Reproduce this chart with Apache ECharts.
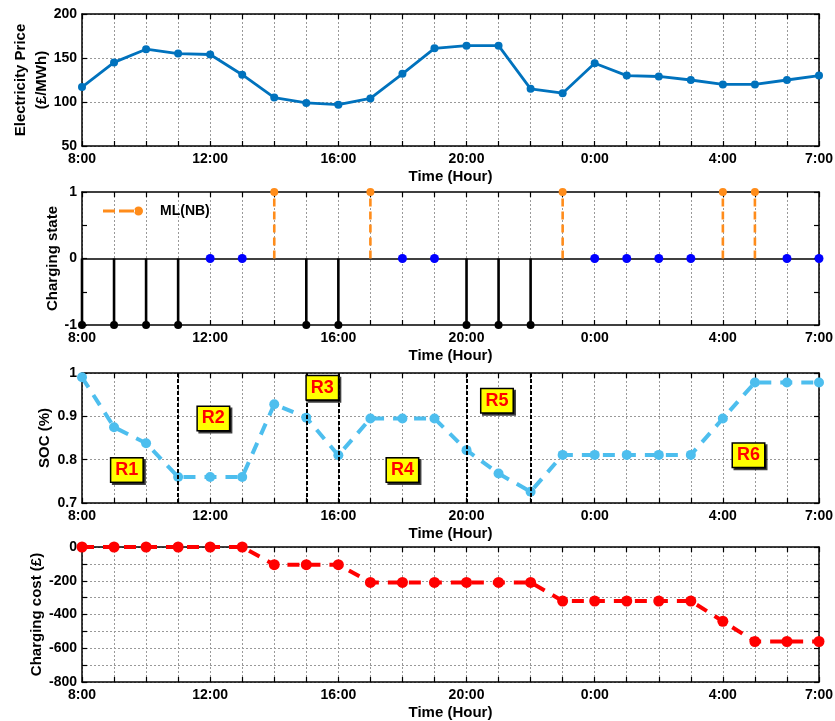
<!DOCTYPE html>
<html>
<head>
<meta charset="utf-8">
<script src="https://cdn.jsdelivr.net/npm/echarts@6/dist/echarts.min.js"></script>
<style>html,body{margin:0;padding:0;background:#fff}#c{width:835px;height:721px}</style>
</head>
<body>
<div id="c"></div>
<script>
const hours = ['8:00','9:00','10:00','11:00','12:00','13:00','14:00','15:00','16:00','17:00','18:00','19:00',
  '20:00','21:00','22:00','23:00','0:00','1:00','2:00','3:00','4:00','5:00','6:00','7:00'];
const xTickLabels = ['8:00','12:00','16:00','20:00','0:00','4:00','7:00'];
const price = [117,145,160,155,154,131,105,99,97,104,132,161,164,164,115,110,144,130,129,125,120,120,125,130];
const chargingState = [-1,-1,-1,-1,0,0,1,-1,-1,1,0,0,-1,-1,-1,1,0,0,0,0,1,1,0,0];
const soc = [0.99,0.875,0.838,0.76,0.76,0.76,0.928,0.897,0.81,0.895,0.895,0.895,0.822,0.768,0.726,0.811,0.811,0.811,0.811,0.811,0.895,0.978,0.978,0.978];
const cost = [0,0,0,0,0,0,-105,-105,-105,-210,-210,-210,-210,-210,-210,-320,-320,-320,-320,-320,-440,-560,-560,-560];
const regionNames = ['R1','R2','R3','R4','R5','R6'];
const regionX = [1.4,4.1,7.5,10,12.95,20.8];
const regionY = [0.776,0.895,0.966,0.776,0.936,0.81];
const regionBounds = [3,7,8,12,14];

const NARROW = "'Liberation Sans Narrow','Liberation Sans',Arial,sans-serif";
const SANS = "'Liberation Sans',Arial,sans-serif";

const gridBase = {left:82, right:16, containLabel:false, outerBoundsMode:'none'};
const grids = [
  Object.assign({top:14, height:132}, gridBase),
  Object.assign({top:192, height:133}, gridBase),
  Object.assign({top:373, height:130}, gridBase),
  Object.assign({top:547, height:135}, gridBase)
];
const yCfg = [
  {min:50, max:200, interval:50, name:'Electricity Price\n(£/MWh)', gap:30, split:true, fmt:v=>String(v)},
  {min:-1, max:1, interval:0.5, name:'Charging state', gap:19, split:false, fmt:v=>(Math.abs(v%1)<1e-9?String(v):'')},
  {min:0.7, max:1, interval:0.1, name:'SOC (%)', gap:27, split:true, fmt:v=>String(Math.round(v*10)/10)},
  {min:-800, max:0, interval:100, name:'Charging cost (£)', gap:35, split:true, fmt:v=>(v%200===0?String(v):'')}
];

function xAx(k, top){
  return {
    type:'value', gridIndex:k, min:0, max:23, interval:1, position: top?'top':'bottom',
    axisLine:{show:true, onZero:false, lineStyle:{color:'#000', width:1.5}},
    axisTick:{show:true, inside:true, length:5, lineStyle:{color:'#000', width:1.2}},
    axisLabel: top ? {show:false} : {show:true, margin:6, color:'#000', fontWeight:'bold', fontSize:14, fontFamily:NARROW,
      formatter:v=>(xTickLabels.includes(hours[v])?hours[v]:'')},
    splitLine: top ? {show:false} : {show:true, lineStyle:{type:[2,2], color:'#999', width:1}},
    name: top ? '' : 'Time (Hour)', nameLocation:'middle', nameGap:23, nameMoveOverlap:false,
    nameTextStyle:{color:'#000', fontWeight:'bold', fontSize:15, fontFamily:NARROW}
  };
}
function yAx(k, right){
  const c = yCfg[k];
  return {
    type:'value', gridIndex:k, min:c.min, max:c.max, interval:c.interval, position: right?'right':'left',
    axisLine:{show:true, onZero:false, lineStyle:{color:'#000', width:1.5}},
    axisTick:{show:true, inside:true, length:5, lineStyle:{color:'#000', width:1.2}},
    axisLabel: right ? {show:false} : {show:true, margin:5, color:'#000', fontWeight:'bold', fontSize:14, fontFamily:SANS, formatter:c.fmt},
    splitLine: (right || !c.split) ? {show:false} : {show:true, lineStyle:{type:[2,2], color:'#999', width:1}},
    name: right ? '' : c.name, nameLocation:'middle', nameGap:c.gap, nameMoveOverlap:false,
    nameTextStyle:{color:'#000', fontWeight:'bold', fontSize:15, fontFamily:SANS, lineHeight:21, align:'center'}
  };
}

const xAxes = [], yAxes = [];
for (let k=0;k<4;k++){ xAxes.push(xAx(k,false)); yAxes.push(yAx(k,false)); }
for (let k=0;k<4;k++){ xAxes.push(xAx(k,true)); yAxes.push(yAx(k,true)); }

const orangeStems = [], blackStems = [], zeroDots = [];
chargingState.forEach((s,i)=>{
  if (s > 0){ orangeStems.push({value:[i,0], symbol:'none'}); orangeStems.push([i,s]); orangeStems.push([i,'-']); }
  else if (s < 0){ blackStems.push({value:[i,0], symbol:'none'}); blackStems.push([i,s]); blackStems.push([i,'-']); }
  else zeroDots.push([i,0]);
});

const ORANGE = '#FF8C1A';
const legendIcon = 'path://M0,3L12,3L12,6L0,6Z M16,3L32,3L32,6L16,6Z M31,4.5A4.5,4.5 0 1,0 40,4.5A4.5,4.5 0 1,0 31,4.5Z';
const series = [
  {type:'line', name:'price', xAxisIndex:0, yAxisIndex:0, data:price.map((v,i)=>[i,v]),
   symbol:'circle', symbolSize:8, lineStyle:{color:'#0072BD', width:2.8}, itemStyle:{color:'#0072BD'}, z:3},
  {type:'line', name:'discharge', xAxisIndex:1, yAxisIndex:1, data:blackStems, connectNulls:false,
   symbol:'circle', symbolSize:8, lineStyle:{color:'#000', width:2.6}, itemStyle:{color:'#000'}, z:3,
   markLine:{silent:true, symbol:'none', label:{show:false}, lineStyle:{color:'#000', type:'solid', width:1.5},
     data:[{yAxis:0}], z:1}},
  {type:'line', name:'ML(NB)', xAxisIndex:1, yAxisIndex:1, data:orangeStems, connectNulls:false,
   symbol:'circle', symbolSize:8, lineStyle:{color:ORANGE, width:2.6, type:[8,5]}, itemStyle:{color:ORANGE}, z:4},
  {type:'scatter', name:'idle', xAxisIndex:1, yAxisIndex:1, data:zeroDots, symbol:'circle', symbolSize:9,
   itemStyle:{color:'#0000FF', opacity:1}, z:5},
  {type:'line', name:'soc', xAxisIndex:2, yAxisIndex:2, data:soc.map((v,i)=>[i,v]),
   symbol:'circle', symbolSize:10, lineStyle:{color:'#4DBEEE', width:4, type:[12,9]}, itemStyle:{color:'#4DBEEE'}, z:3,
   markLine:{silent:true, symbol:'none', label:{show:false}, lineStyle:{color:'#000', type:[4,2], width:2},
     data:regionBounds.map(b=>({xAxis:b}))}},
  {type:'scatter', name:'regions', xAxisIndex:2, yAxisIndex:2,
   data:regionNames.map((n,i)=>({name:n, value:[regionX[i], regionY[i]]})),
   symbolSize:2, itemStyle:{color:'rgba(0,0,0,0)', opacity:1}, z:10,
   label:{show:true, position:'inside', formatter:'{b}', color:'#FF0000', opacity:1, fontWeight:'bold', fontSize:18, fontFamily:NARROW,
     backgroundColor:'#FFFF00', borderColor:'#000', borderWidth:1.5, padding:[3,4,2,4],
     shadowColor:'rgba(0,0,0,0.75)', shadowOffsetX:2, shadowOffsetY:2, shadowBlur:0}},
  {type:'line', name:'cost', xAxisIndex:3, yAxisIndex:3, data:cost.map((v,i)=>[i,v]),
   symbol:'circle', symbolSize:11, lineStyle:{color:'#FF0000', width:4, type:[12,9]}, itemStyle:{color:'#FF0000'}, z:3}
];

const chart = echarts.init(document.getElementById('c'), null, {renderer:'canvas'});
chart.setOption({
  animation:false,
  backgroundColor:'#fff',
  grid:grids,
  xAxis:xAxes,
  yAxis:yAxes,
  legend:{data:[{name:'ML(NB)', icon:legendIcon}], left:98, top:199, itemWidth:40, itemHeight:9,
    textStyle:{color:'#000', fontWeight:'bold', fontSize:14, fontFamily:SANS, padding:[0,0,0,12]}},
  series:series
});
</script>
</body>
</html>
